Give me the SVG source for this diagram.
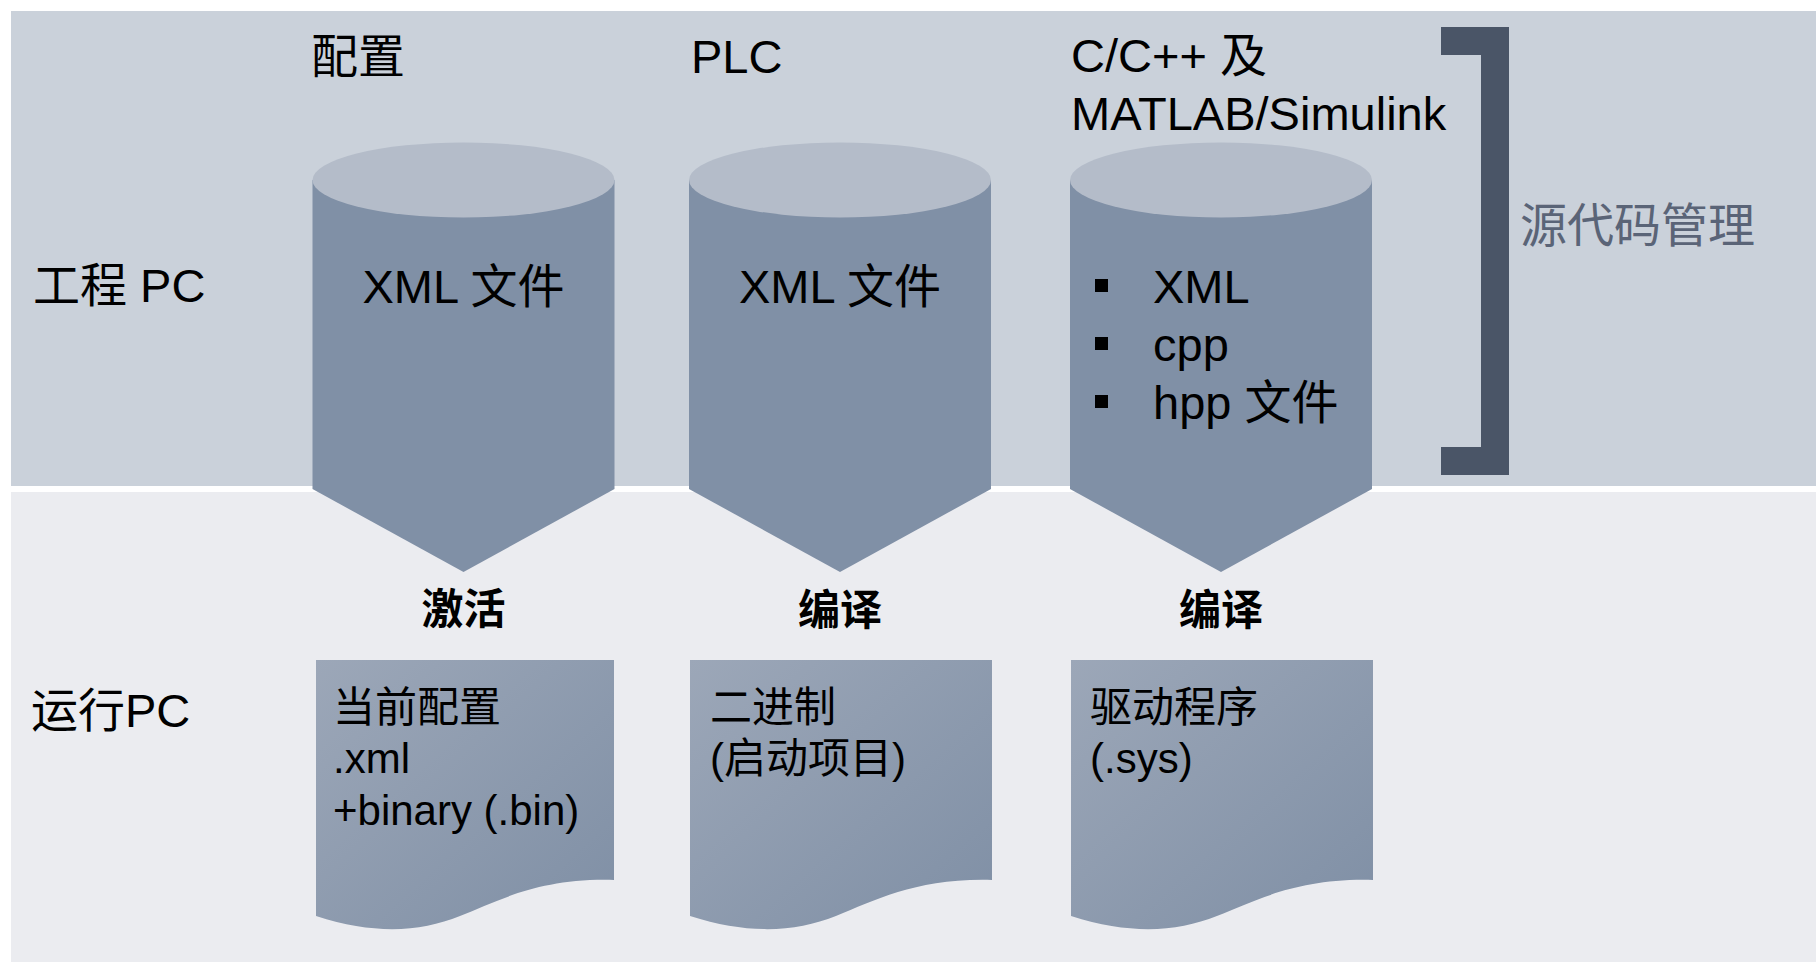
<svg xmlns="http://www.w3.org/2000/svg" width="1816" height="963" viewBox="0 0 1816 963">
<style>
text{font-family:"Liberation Sans","Noto Sans CJK SC",sans-serif;fill:#000}
.big{font-size:47px}
.mid{font-size:42px}
.act{font-size:42px;font-weight:bold;text-anchor:middle}
.ctr{text-anchor:middle}
.body{fill:#8090A6}
.top{fill:#B4BCC9}
.doc{fill:url(#docGrad)}
.bul{fill:#000}
</style>
<defs>
<linearGradient id="docGrad" x1="0" y1="0" x2="1" y2="1">
<stop offset="0" stop-color="#9CA7B8"/>
<stop offset="1" stop-color="#7F8FA5"/>
</linearGradient>
<path id="docShape" d="M0,0 H298 V220 C224,218 184,240 144,256 C104,272 59,275 0,256 Z"/>
</defs>
<rect x="0" y="0" width="1816" height="963" fill="#FFFFFF"/>
<rect id="bandTop" x="11" y="11" width="1805" height="475" fill="#CAD1DA"/>
<rect id="bandBottom" x="11" y="492" width="1805" height="470" fill="#EBECF0"/>

<text class="big" x="33" y="302">工程 PC</text>
<text class="big" x="31" y="727">运行PC</text>

<g id="cyl1">
<path class="body" d="M312.5,180 V489 L463.5,572 L614.5,489 V180 Z"/>
<ellipse class="top" cx="463.5" cy="180" rx="151" ry="37.5"/>
<text class="big" x="311" y="73">配置</text>
<text class="big ctr" x="463.5" y="303">XML 文件</text>
</g>
<g id="cyl2">
<path class="body" d="M689,180 V489 L840,572 L991,489 V180 Z"/>
<ellipse class="top" cx="840" cy="180" rx="151" ry="37.5"/>
<text class="big" x="691" y="73">PLC</text>
<text class="big ctr" x="840" y="303">XML 文件</text>
</g>
<g id="cyl3">
<path class="body" d="M1070,180 V489 L1221,572 L1372,489 V180 Z"/>
<ellipse class="top" cx="1221" cy="180" rx="151" ry="37.5"/>
<text class="big" x="1071" y="72">C/C++ 及</text>
<text class="big" x="1071" y="130">MATLAB/Simulink</text>
<rect class="bul" x="1095" y="279" width="13" height="13"/>
<text class="big" x="1153" y="303">XML</text>
<rect class="bul" x="1095" y="337" width="13" height="13"/>
<text class="big" x="1153" y="361">cpp</text>
<rect class="bul" x="1095" y="395" width="13" height="13"/>
<text class="big" x="1153" y="419">hpp 文件</text>
</g>

<g id="bracket">
<path fill="#4A5567" d="M1441,27 H1509 V475 H1441 V447 H1481 V55 H1441 Z"/>
<text class="big" x="1520" y="242" style="fill:#5A6477">源代码管理</text>
</g>

<g id="connectors">
<text class="act" x="463.5" y="624">激活</text>
<text class="act" x="840" y="625">编译</text>
<text class="act" x="1221" y="625">编译</text>
</g>

<g id="doc1">
<use href="#docShape" class="doc" transform="translate(316,660)"/>
<text class="mid" x="333" y="722">当前配置</text>
<text class="mid" x="333" y="773">.xml</text>
<text class="mid" x="333" y="825">+binary (.bin)</text>
</g>
<g id="doc2">
<use href="#docShape" class="doc" transform="translate(690,660) scale(1.0134,1)"/>
<text class="mid" x="710" y="722">二进制</text>
<text class="mid" x="710" y="773">(启动项目)</text>
</g>
<g id="doc3">
<use href="#docShape" class="doc" transform="translate(1071,660) scale(1.0134,1)"/>
<text class="mid" x="1090" y="722">驱动程序</text>
<text class="mid" x="1090" y="773">(.sys)</text>
</g>
</svg>
